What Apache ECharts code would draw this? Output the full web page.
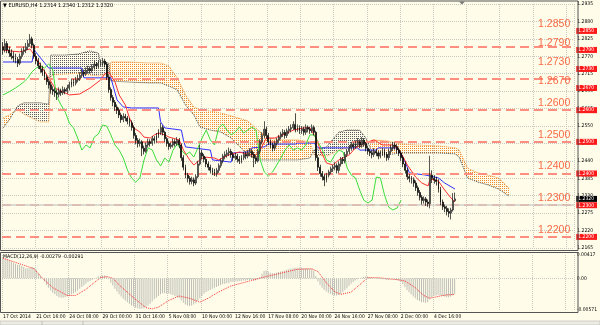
<!DOCTYPE html>
<html><head><meta charset="utf-8">
<script src="https://cdn.jsdelivr.net/npm/echarts@6/dist/echarts.min.js"></script>
<style>html,body{margin:0;padding:0;background:#fffdea}#c{width:600px;height:325px}</style>
</head><body><div id="c"></div>
<script>
const N_BARS = 276;
const TIME_LABELS = ['17 Oct 2014','21 Oct 16:00','24 Oct 08:00','29 Oct 00:00','31 Oct 16:00','5 Nov 08:00','10 Nov 00:00','12 Nov 16:00','17 Nov 08:00','20 Nov 00:00','24 Nov 16:00','27 Nov 08:00','2 Dec 00:00','4 Dec 16:00'];
const LABEL_EVERY = 16;
const Y_MIN = 1.2165, Y_MAX = 1.2935, Y_STEP = 0.0055;
const LEVELS = [1.2850,1.2790,1.2730,1.2670,1.2600,1.2500,1.2400,1.2300,1.2200];
const CURRENT = 1.2320;
const HEADER = '\u25BC EURUSD,H4 1.2314 1.2340 1.2312 1.2320';
const MACD_HEADER = 'MACD(12,26,9) -0.00279 -0.00291';
const M_MIN = -0.00571, M_MAX = 0.00417;

// [open, close, low, high]
const CANDLES = [
[1.2800,1.2790,1.2775,1.2815],[1.2790,1.2810,1.2782,1.2825],[1.2810,1.2790,1.2780,1.2818],[1.2790,1.2780,1.2768,1.2800],
[1.2780,1.2770,1.2760,1.2792],[1.2770,1.2765,1.2752,1.2785],[1.2765,1.2760,1.2748,1.2778],[1.2760,1.2748,1.2736,1.2768],
[1.2748,1.2770,1.2742,1.2778],[1.2770,1.2785,1.2762,1.2795],[1.2785,1.2790,1.2775,1.2800],[1.2790,1.2800,1.2780,1.2812],
[1.2800,1.2810,1.2790,1.2822],[1.2810,1.2825,1.2800,1.2840],[1.2825,1.2805,1.2795,1.2832],[1.2805,1.2770,1.2762,1.2810],
[1.2770,1.2755,1.2745,1.2780],[1.2755,1.2740,1.2730,1.2765],[1.2740,1.2730,1.2718,1.2750],[1.2730,1.2720,1.2708,1.2740],
[1.2720,1.2705,1.2695,1.2728],[1.2705,1.2690,1.2680,1.2712],[1.2690,1.2680,1.2668,1.2698],[1.2680,1.2665,1.2652,1.2688],
[1.2665,1.2660,1.2648,1.2675],[1.2660,1.2655,1.2642,1.2670],[1.2655,1.2650,1.2632,1.2665],[1.2650,1.2660,1.2640,1.2672],
[1.2660,1.2655,1.2645,1.2668],[1.2655,1.2665,1.2648,1.2675],[1.2665,1.2660,1.2650,1.2672],[1.2660,1.2670,1.2652,1.2680],
[1.2670,1.2680,1.2662,1.2690],[1.2680,1.2690,1.2672,1.2700],[1.2690,1.2685,1.2675,1.2698],[1.2685,1.2695,1.2678,1.2705],
[1.2695,1.2700,1.2688,1.2712],[1.2700,1.2710,1.2692,1.2720],[1.2710,1.2720,1.2702,1.2730],[1.2720,1.2715,1.2705,1.2728],
[1.2715,1.2725,1.2708,1.2735],[1.2725,1.2730,1.2715,1.2740],[1.2730,1.2725,1.2715,1.2738],[1.2725,1.2735,1.2718,1.2745],
[1.2735,1.2745,1.2728,1.2755],[1.2745,1.2740,1.2730,1.2752],[1.2740,1.2748,1.2732,1.2758],[1.2748,1.2750,1.2738,1.2760],
[1.2750,1.2755,1.2740,1.2765],[1.2755,1.2745,1.2735,1.2762],[1.2745,1.2705,1.2695,1.2752],[1.2705,1.2665,1.2655,1.2712],
[1.2665,1.2640,1.2630,1.2672],[1.2640,1.2625,1.2612,1.2648],[1.2625,1.2610,1.2598,1.2632],[1.2610,1.2600,1.2588,1.2618],
[1.2600,1.2585,1.2575,1.2608],[1.2585,1.2570,1.2560,1.2592],[1.2570,1.2580,1.2562,1.2590],[1.2580,1.2575,1.2565,1.2588],
[1.2575,1.2565,1.2555,1.2582],[1.2565,1.2560,1.2548,1.2575],[1.2560,1.2545,1.2535,1.2568],[1.2545,1.2520,1.2510,1.2552],
[1.2520,1.2505,1.2492,1.2528],[1.2505,1.2495,1.2482,1.2512],[1.2495,1.2500,1.2485,1.2510],[1.2500,1.2480,1.2455,1.2505],
[1.2480,1.2470,1.2460,1.2488],[1.2470,1.2490,1.2465,1.2498],[1.2490,1.2500,1.2482,1.2510],[1.2500,1.2495,1.2485,1.2508],
[1.2495,1.2510,1.2488,1.2518],[1.2510,1.2505,1.2495,1.2518],[1.2505,1.2520,1.2498,1.2528],[1.2520,1.2530,1.2512,1.2540],
[1.2530,1.2545,1.2522,1.2560],[1.2545,1.2530,1.2520,1.2552],[1.2530,1.2510,1.2500,1.2535],[1.2510,1.2495,1.2485,1.2515],
[1.2495,1.2485,1.2475,1.2502],[1.2485,1.2490,1.2478,1.2498],[1.2490,1.2500,1.2482,1.2510],[1.2500,1.2495,1.2485,1.2508],
[1.2495,1.2505,1.2488,1.2515],[1.2505,1.2490,1.2480,1.2512],[1.2490,1.2450,1.2440,1.2495],[1.2450,1.2420,1.2410,1.2458],
[1.2420,1.2395,1.2385,1.2428],[1.2395,1.2385,1.2372,1.2402],[1.2385,1.2375,1.2365,1.2392],[1.2375,1.2380,1.2366,1.2390],
[1.2380,1.2370,1.2360,1.2388],[1.2370,1.2390,1.2364,1.2398],[1.2390,1.2430,1.2385,1.2440],[1.2430,1.2465,1.2425,1.2490],
[1.2465,1.2455,1.2445,1.2475],[1.2455,1.2445,1.2435,1.2462],[1.2445,1.2430,1.2420,1.2452],[1.2430,1.2420,1.2410,1.2438],
[1.2420,1.2410,1.2400,1.2428],[1.2410,1.2405,1.2395,1.2418],[1.2405,1.2400,1.2392,1.2415],[1.2400,1.2410,1.2390,1.2418],
[1.2410,1.2425,1.2402,1.2432],[1.2425,1.2440,1.2418,1.2448],[1.2440,1.2455,1.2432,1.2462],[1.2455,1.2460,1.2445,1.2470],
[1.2460,1.2465,1.2450,1.2475],[1.2465,1.2470,1.2455,1.2482],[1.2470,1.2460,1.2450,1.2478],[1.2460,1.2450,1.2440,1.2468],
[1.2450,1.2455,1.2442,1.2465],[1.2455,1.2445,1.2435,1.2462],[1.2445,1.2440,1.2430,1.2455],[1.2440,1.2450,1.2432,1.2458],
[1.2450,1.2460,1.2442,1.2468],[1.2460,1.2455,1.2445,1.2470],[1.2455,1.2465,1.2448,1.2475],[1.2465,1.2470,1.2455,1.2480],
[1.2470,1.2460,1.2450,1.2478],[1.2460,1.2450,1.2420,1.2468],[1.2450,1.2440,1.2430,1.2458],[1.2440,1.2470,1.2435,1.2478],
[1.2470,1.2500,1.2462,1.2508],[1.2500,1.2520,1.2492,1.2530],[1.2520,1.2540,1.2512,1.2565],[1.2540,1.2520,1.2510,1.2548],
[1.2520,1.2500,1.2490,1.2528],[1.2500,1.2490,1.2480,1.2508],[1.2490,1.2480,1.2470,1.2498],[1.2480,1.2495,1.2472,1.2502],
[1.2495,1.2505,1.2488,1.2512],[1.2505,1.2515,1.2498,1.2522],[1.2515,1.2525,1.2508,1.2532],[1.2525,1.2530,1.2515,1.2540],
[1.2530,1.2520,1.2510,1.2538],[1.2520,1.2535,1.2512,1.2542],[1.2535,1.2540,1.2525,1.2550],[1.2540,1.2545,1.2530,1.2555],
[1.2545,1.2555,1.2538,1.2565],[1.2555,1.2540,1.2530,1.2590],[1.2540,1.2545,1.2532,1.2555],[1.2545,1.2535,1.2525,1.2552],
[1.2535,1.2540,1.2525,1.2550],[1.2540,1.2530,1.2520,1.2548],[1.2530,1.2545,1.2522,1.2555],[1.2545,1.2540,1.2530,1.2552],
[1.2540,1.2535,1.2525,1.2548],[1.2535,1.2545,1.2528,1.2555],[1.2545,1.2530,1.2520,1.2552],[1.2530,1.2450,1.2440,1.2535],
[1.2450,1.2420,1.2408,1.2458],[1.2420,1.2400,1.2390,1.2428],[1.2400,1.2390,1.2378,1.2408],[1.2390,1.2380,1.2360,1.2398],
[1.2380,1.2395,1.2372,1.2402],[1.2395,1.2405,1.2388,1.2412],[1.2405,1.2415,1.2398,1.2422],[1.2415,1.2420,1.2405,1.2428],
[1.2420,1.2425,1.2410,1.2435],[1.2425,1.2410,1.2400,1.2432],[1.2410,1.2430,1.2402,1.2438],[1.2430,1.2445,1.2422,1.2452],
[1.2445,1.2440,1.2430,1.2452],[1.2440,1.2460,1.2432,1.2468],[1.2460,1.2470,1.2452,1.2478],[1.2470,1.2480,1.2462,1.2490],
[1.2480,1.2490,1.2472,1.2500],[1.2490,1.2485,1.2475,1.2498],[1.2485,1.2495,1.2478,1.2505],[1.2495,1.2500,1.2485,1.2512],
[1.2500,1.2490,1.2480,1.2508],[1.2490,1.2505,1.2482,1.2515],[1.2505,1.2495,1.2485,1.2512],[1.2495,1.2480,1.2470,1.2500],
[1.2480,1.2470,1.2460,1.2488],[1.2470,1.2465,1.2455,1.2478],[1.2465,1.2460,1.2448,1.2472],[1.2460,1.2470,1.2452,1.2480],
[1.2470,1.2465,1.2455,1.2478],[1.2465,1.2455,1.2445,1.2472],[1.2455,1.2465,1.2448,1.2472],[1.2465,1.2470,1.2455,1.2480],
[1.2470,1.2460,1.2450,1.2478],[1.2460,1.2450,1.2440,1.2468],[1.2450,1.2470,1.2442,1.2478],[1.2470,1.2480,1.2462,1.2490],
[1.2480,1.2490,1.2472,1.2500],[1.2490,1.2485,1.2475,1.2498],[1.2485,1.2475,1.2465,1.2492],[1.2475,1.2465,1.2455,1.2482],
[1.2465,1.2450,1.2440,1.2472],[1.2450,1.2430,1.2420,1.2458],[1.2430,1.2410,1.2400,1.2438],[1.2410,1.2390,1.2380,1.2418],
[1.2390,1.2385,1.2372,1.2398],[1.2385,1.2380,1.2368,1.2392],[1.2380,1.2370,1.2358,1.2388],[1.2370,1.2355,1.2345,1.2378],
[1.2355,1.2340,1.2330,1.2362],[1.2340,1.2325,1.2315,1.2348],[1.2325,1.2315,1.2302,1.2332],[1.2315,1.2320,1.2305,1.2328],
[1.2320,1.2310,1.2298,1.2326],[1.2310,1.2305,1.2295,1.2318],[1.2305,1.2395,1.2290,1.2456],[1.2395,1.2385,1.2370,1.2410],
[1.2385,1.2380,1.2368,1.2395],[1.2380,1.2375,1.2362,1.2390],[1.2375,1.2350,1.2340,1.2382],[1.2350,1.2310,1.2300,1.2358],
[1.2310,1.2295,1.2285,1.2318],[1.2295,1.2290,1.2278,1.2302],[1.2290,1.2280,1.2268,1.2298],[1.2280,1.2275,1.2262,1.2290],
[1.2275,1.2285,1.2255,1.2292],[1.2285,1.2314,1.2280,1.2338],[1.2314,1.2320,1.2312,1.2340]
];

// [bar index, value]
const TENKAN = [[0,1.2790],[3,1.2787],[8,1.2784],[13,1.2793],[14,1.2784],[18,1.2743],[22,1.2702],[25,1.2670],[32,1.2648],[37,1.2651],[42,1.2670],[47,1.2695],[49,1.2714],[51,1.2720],[54,1.2689],[56,1.2648],[59,1.2616],[61,1.2575],[63,1.2544],[66,1.2531],[68,1.2515],[71,1.2512],[73,1.2522],[75,1.2528],[78,1.2522],[80,1.2515],[85,1.2506],[87,1.2474],[90,1.2443],[92,1.2427],[95,1.2443],[97,1.2452],[102,1.2449],[104,1.2443],[109,1.2459],[114,1.2468],[119,1.2459],[122,1.2459],[124,1.2474],[127,1.2512],[131,1.2512],[135,1.2522],[140,1.2537],[145,1.2544],[148,1.2544],[151,1.2512],[153,1.2474],[156,1.2433],[159,1.2427],[162,1.2443],[167,1.2459],[170,1.2481],[174,1.2496],[179,1.2506],[183,1.2490],[188,1.2490],[191,1.2474],[193,1.2452],[195,1.2427],[199,1.2389],[202,1.2370],[205,1.2361],[206,1.2383],[210,1.2376],[213,1.2348],[216,1.2323],[218,1.2310]];
const KIJUN = [[0,1.2752],[14,1.2752],[15,1.2790],[22,1.2733],[38,1.2733],[39,1.2702],[52,1.2702],[53,1.2679],[55,1.2632],[58,1.2610],[62,1.2607],[75,1.2607],[76,1.2563],[78,1.2544],[86,1.2537],[87,1.2506],[88,1.2484],[100,1.2474],[101,1.2443],[110,1.2436],[111,1.2465],[118,1.2468],[120,1.2481],[126,1.2484],[128,1.2493],[141,1.2493],[142,1.2496],[150,1.2496],[152,1.2481],[171,1.2481],[172,1.2474],[180,1.2474],[181,1.2481],[190,1.2481],[192,1.2459],[194,1.2436],[196,1.2402],[204,1.2395],[206,1.2392],[210,1.2386],[213,1.2370],[218,1.2351]];
const CHIKOU = [[0,1.2648],[3,1.2658],[6,1.2670],[8,1.2679],[10,1.2689],[12,1.2702],[14,1.2721],[16,1.2733],[18,1.2739],[20,1.2733],[22,1.2746],[24,1.2727],[25,1.2679],[26,1.2642],[28,1.2616],[30,1.2594],[32,1.2559],[34,1.2544],[36,1.2512],[38,1.2474],[40,1.2490],[42,1.2481],[44,1.2515],[46,1.2525],[48,1.2553],[50,1.2550],[52,1.2522],[54,1.2490],[56,1.2474],[58,1.2449],[60,1.2411],[62,1.2386],[64,1.2373],[66,1.2386],[68,1.2443],[70,1.2481],[72,1.2474],[74,1.2443],[76,1.2424],[78,1.2449],[80,1.2436],[82,1.2474],[84,1.2493],[86,1.2474],[88,1.2459],[90,1.2468],[92,1.2452],[94,1.2481],[96,1.2512],[98,1.2537],[100,1.2506],[102,1.2490],[104,1.2544],[106,1.2556],[108,1.2537],[110,1.2522],[112,1.2531],[114,1.2547],[116,1.2528],[118,1.2537],[120,1.2547],[122,1.2537],[124,1.2443],[126,1.2405],[128,1.2392],[130,1.2405],[132,1.2427],[134,1.2449],[136,1.2474],[138,1.2490],[140,1.2474],[142,1.2481],[144,1.2474],[146,1.2490],[148,1.2522],[150,1.2522],[152,1.2499],[154,1.2474],[156,1.2443],[158,1.2436],[160,1.2459],[162,1.2474],[164,1.2468],[166,1.2417],[168,1.2395],[170,1.2386],[172,1.2348],[174,1.2316],[176,1.2307],[178,1.2316],[180,1.2389],[182,1.2386],[184,1.2332],[186,1.2294],[188,1.2285],[190,1.2291],[192,1.2316]];

const SENKOU_IDX = [0,3,5,7,10,14,18,22,23,24,30,36,42,46,47,51,52,60,70,76,80,84,88,92,95,100,105,110,118,123,128,135,142,148,150,156,162,166,172,175,178,185,192,200,210,218,220,224,229,234,239,244];
const SPAN_A = [1.2575,1.2585,1.2594,1.2601,1.2588,1.2575,1.2563,1.2563,1.2705,1.2711,1.2714,1.2717,1.2711,1.2708,1.2711,1.2711,1.2752,1.2752,1.2749,1.2749,1.2739,1.2702,1.2648,1.2610,1.2601,1.2597,1.2591,1.2582,1.2566,1.2537,1.2512,1.2506,1.2506,1.2500,1.2459,1.2455,1.2474,1.2481,1.2481,1.2490,1.2506,1.2503,1.2493,1.2490,1.2487,1.2481,1.2474,1.2417,1.2402,1.2395,1.2386,1.2354];
const SPAN_B = [1.2544,1.2569,1.2591,1.2613,1.2623,1.2623,1.2623,1.2619,1.2774,1.2774,1.2774,1.2777,1.2787,1.2780,1.2749,1.2749,1.2692,1.2689,1.2686,1.2686,1.2676,1.2664,1.2616,1.2585,1.2547,1.2537,1.2531,1.2512,1.2459,1.2443,1.2443,1.2443,1.2443,1.2449,1.2474,1.2484,1.2531,1.2537,1.2537,1.2512,1.2468,1.2459,1.2465,1.2465,1.2465,1.2462,1.2452,1.2386,1.2373,1.2364,1.2351,1.2329];

const MACD_HIST = [
0.0038,0.0036,0.0034,0.0032,0.0030,0.0028,0.0026,0.0024,0.0024,0.0022,0.0020,0.0018,0.0018,0.0019,0.0020,0.0019,0.0015,
0.0010,0.0005,0.0000,-0.0006,-0.0012,-0.0017,-0.0022,-0.0026,-0.0029,-0.0032,-0.0034,-0.0035,-0.0035,-0.0034,-0.0033,
-0.0031,-0.0029,-0.0027,-0.0025,-0.0022,-0.0019,-0.0016,-0.0013,-0.0010,-0.0007,-0.0005,-0.0003,-0.0001,
0.0001,0.0003,0.0004,0.0005,0.0005,0.0003,-0.0002,-0.0008,-0.0013,-0.0019,-0.0024,-0.0029,
-0.0033,-0.0037,-0.0040,-0.0043,-0.0046,-0.0049,-0.0051,-0.0053,-0.0054,-0.0055,-0.0055,-0.0054,-0.0052,
-0.0049,-0.0046,-0.0042,-0.0038,-0.0035,-0.0032,-0.0029,-0.0027,-0.0027,-0.0028,-0.0028,-0.0029,
-0.0030,-0.0032,-0.0034,-0.0036,-0.0040,-0.0044,-0.0047,-0.0049,-0.0050,-0.0049,-0.0047,-0.0045,
-0.0041,-0.0036,-0.0032,-0.0028,-0.0025,-0.0023,-0.0021,-0.0019,-0.0017,-0.0016,-0.0014,-0.0012,-0.0011,
-0.0010,-0.0009,-0.0008,-0.0007,-0.0007,-0.0006,-0.0006,-0.0005,-0.0005,-0.0004,-0.0004,-0.0003,-0.0003,-0.0003,
-0.0004,-0.0004,-0.0002,0.0002,0.0008,0.0013,0.0014,0.0012,0.0010,0.0009,0.0009,0.0010,0.0011,0.0012,
0.0013,0.0014,0.0015,0.0016,0.0017,0.0018,0.0019,0.0019,0.0019,0.0019,0.0018,0.0018,0.0018,0.0017,0.0017,
0.0014,0.0004,-0.0006,-0.0012,-0.0017,-0.0021,-0.0024,-0.0026,-0.0028,-0.0030,
-0.0031,-0.0031,-0.0030,-0.0028,-0.0025,-0.0021,-0.0018,-0.0014,-0.0010,-0.0007,-0.0004,-0.0002,
0.0000,0.0001,0.0002,0.0003,0.0003,0.0002,0.0001,0.0000,0.0000,-0.0001,-0.0001,-0.0002,-0.0002,
-0.0003,-0.0003,-0.0002,-0.0002,-0.0002,-0.0003,-0.0004,-0.0007,-0.0011,-0.0016,-0.0021,-0.0025,-0.0029,
-0.0033,-0.0036,-0.0039,-0.0041,-0.0043,-0.0043,-0.0044,-0.0043,-0.0038,-0.0034,
-0.0032,-0.0031,-0.0030,-0.0031,-0.0032,-0.0033,-0.0034,-0.0034,-0.0033,-0.0031,-0.0028
];
const MACD_SIGNAL = [[0,0.0036],[15,0.0017],[19,0.0000],[24,-0.0017],[31,-0.0031],[35,-0.0031],[40,-0.0020],[47,0.0001],[50,0.0003],[53,0.0000],[56,-0.0012],[63,-0.0035],[69,-0.0053],[72,-0.0055],[75,-0.0052],[80,-0.0040],[85,-0.0032],[90,-0.0036],[95,-0.0043],[99,-0.0036],[104,-0.0025],[110,-0.0014],[120,-0.0004],[127,0.0003],[134,0.0009],[142,0.0016],[149,0.0017],[152,0.0012],[156,-0.0008],[160,-0.0024],[163,-0.0029],[168,-0.0025],[173,-0.0009],[176,0.0001],[181,0.0001],[186,-0.0001],[191,-0.0003],[194,-0.0005],[199,-0.0017],[203,-0.0031],[206,-0.0036],[211,-0.0032],[214,-0.0030],[218,-0.0029]];

// ---------- styling ----------
const BG = '#fffdea';
const GRID_C = '#c9c9c0';
const FONT_SMALL = '"Liberation Sans Narrow","DejaVu Sans Condensed","Liberation Sans",sans-serif';
const FONT_LEVEL = '"Liberation Sans",Arial,sans-serif';

function makePattern(color){
  const cv = document.createElement('canvas'); cv.width = 2; cv.height = 2;
  const ctx = cv.getContext('2d');
  ctx.fillStyle = color; ctx.fillRect(0,0,1,1);
  return {image: cv, repeat: 'repeat'};
}
const ORANGE_PAT = makePattern('#ef8a2c');
const GRAY_PAT = makePattern('#5a5a5a');

const cats = Array.from({length: N_BARS}, (_, i) => String(i));
const cloudData = SENKOU_IDX.map((x, k) => [x, SPAN_A[k], SPAN_B[k]]);
const isLabelIdx = (i) => i % LABEL_EVERY === 0 && i / LABEL_EVERY < TIME_LABELS.length;

const chart = echarts.init(document.getElementById('c'));
const option = {
  animation: false,
  backgroundColor: BG,
  title: [
    {text: HEADER, left: 3, top: 3, padding: 0, textStyle: {fontSize: 5.5, fontWeight: 'normal', color: '#000', fontFamily: FONT_SMALL}},
    {text: MACD_HEADER, left: 3, top: 254, padding: 0, textStyle: {fontSize: 5.2, fontWeight: 'normal', color: '#000', fontFamily: FONT_SMALL}}
  ],
  grid: [
    {left: 2, right: 23, top: 4, bottom: 77},
    {left: 2, right: 23, top: 255, bottom: 15}
  ],
  xAxis: [
    {type: 'category', gridIndex: 0, data: cats, boundaryGap: true,
     axisLine: {show: false}, axisTick: {show: false}, axisLabel: {show: false},
     splitLine: {show: true, interval: (i) => i % LABEL_EVERY === 0, lineStyle: {type: 'dotted', color: GRID_C}}},
    {type: 'category', gridIndex: 1, data: cats, boundaryGap: true,
     axisLine: {show: false}, axisTick: {show: false},
     axisLabel: {show: true, showMinLabel: true, interval: (i) => isLabelIdx(i), formatter: (v, i) => TIME_LABELS[i / LABEL_EVERY] || '',
       align: 'left', fontSize: 5, margin: 4, color: '#000', fontFamily: FONT_SMALL},
     splitLine: {show: true, interval: (i) => i % LABEL_EVERY === 0, lineStyle: {type: 'dotted', color: GRID_C}}}
  ],
  yAxis: [
    {type: 'value', gridIndex: 0, position: 'right', min: Y_MIN, max: Y_MAX, interval: Y_STEP,
     axisLine: {show: false}, axisTick: {show: false},
     splitLine: {show: true, lineStyle: {type: 'dotted', color: GRID_C}},
     axisLabel: {formatter: (v) => v.toFixed(4), fontSize: 5, color: '#000', margin: 3, fontFamily: FONT_SMALL}},
    {type: 'value', gridIndex: 0, position: 'right', min: Y_MIN, max: Y_MAX, z: 5,
     axisLine: {show: false}, axisTick: {show: false}, splitLine: {show: false},
     axisLabel: {customValues: LEVELS, formatter: (v) => v.toFixed(4), fontSize: 5, color: '#fff', backgroundColor: '#ff1a1a',
       padding: [1, 3, 0, 2], margin: 2, fontFamily: FONT_SMALL}},
    {type: 'value', gridIndex: 0, position: 'right', min: Y_MIN, max: Y_MAX, z: 6,
     axisLine: {show: false}, axisTick: {show: false}, splitLine: {show: false},
     axisLabel: {customValues: [CURRENT], formatter: (v) => v.toFixed(4), fontSize: 5, color: '#fff', backgroundColor: '#000',
       padding: [1, 3, 0, 2], margin: 2, fontFamily: FONT_SMALL}},
    {type: 'value', gridIndex: 1, position: 'right', min: M_MIN, max: M_MAX,
     axisLine: {show: false}, axisTick: {show: false}, splitLine: {show: false},
     axisLabel: {customValues: [M_MAX, 0, M_MIN], formatter: (v) => v === 0 ? '0.00' : v.toFixed(5), fontSize: 5, color: '#000', margin: 3, fontFamily: FONT_SMALL}}
  ],
  series: [
    {type: 'custom', name: 'kumo', xAxisIndex: 0, yAxisIndex: 0, data: cloudData, encode: {x: 0, y: [1, 2]}, clip: true, silent: true, z: 1,
     renderItem: function (params, api) {
       const k = params.dataIndex;
       if (k >= cloudData.length - 1) return null;
       const p = cloudData[k], q = cloudData[k + 1];
       const a0 = api.coord([p[0], p[1]]), a1 = api.coord([q[0], q[1]]);
       const b1 = api.coord([q[0], q[2]]), b0 = api.coord([p[0], p[2]]);
       const up = (p[1] + q[1]) >= (p[2] + q[2]);
       return {type: 'polygon', shape: {points: [a0, a1, b1, b0]}, style: {fill: up ? ORANGE_PAT : GRAY_PAT}};
     }},
    {type: 'line', name: 'Senkou A', xAxisIndex: 0, yAxisIndex: 0, data: SENKOU_IDX.map((x, k) => [x, SPAN_A[k]]), showSymbol: false, silent: true, z: 2,
     lineStyle: {color: '#ef8f3a', width: 1, type: 'dotted'}},
    {type: 'line', name: 'Senkou B', xAxisIndex: 0, yAxisIndex: 0, data: SENKOU_IDX.map((x, k) => [x, SPAN_B[k]]), showSymbol: false, silent: true, z: 2,
     lineStyle: {color: '#444', width: 1, type: 'dotted'}},
    {type: 'line', name: 'Kijun', xAxisIndex: 0, yAxisIndex: 0, data: KIJUN, showSymbol: false, silent: true, z: 3,
     lineStyle: {color: '#3030ff', width: 1}},
    {type: 'line', name: 'Tenkan', xAxisIndex: 0, yAxisIndex: 0, data: TENKAN, showSymbol: false, silent: true, z: 3,
     lineStyle: {color: '#ff3030', width: 1}},
    {type: 'line', name: 'Chikou', xAxisIndex: 0, yAxisIndex: 0, data: CHIKOU, showSymbol: false, silent: true, z: 3,
     lineStyle: {color: '#3cdc3c', width: 1}},
    {type: 'candlestick', name: 'EURUSD', xAxisIndex: 0, yAxisIndex: 0, data: CANDLES, barWidth: 1.4, silent: true, z: 4,
     itemStyle: {color: '#f4f4f4', color0: '#000', borderColor: '#111', borderColor0: '#000', borderWidth: 0.7},
     markLine: {silent: true, symbol: ['none', 'none'], z: 4, label: {show: false},
       data: LEVELS.map(v => ({yAxis: v, lineStyle: {color: '#ff8e80', width: 2, type: [9, 5]}})).concat([
         {yAxis: CURRENT, lineStyle: {color: '#cfcfc8', width: 1.5, type: 'solid'}}])}},
    {type: 'custom', name: 'Level labels', xAxisIndex: 0, yAxisIndex: 0, silent: true, z: 6, clip: false,
     data: LEVELS.map(v => [N_BARS - 1, v]), encode: {x: 0, y: 1},
     renderItem: function (params, api) {
       const pt = api.coord([api.value(0), api.value(1)]);
       return {type: 'text', x: pt[0] - 3, y: pt[1] - 1.5,
         style: {text: LEVELS[params.dataIndex].toFixed(4), fill: '#fa6a45', font: '10.5px ' + FONT_LEVEL,
           align: 'right', verticalAlign: 'bottom', textAlign: 'right', textVerticalAlign: 'bottom'}};
     }},
    {type: 'bar', name: 'MACD', xAxisIndex: 1, yAxisIndex: 3, data: MACD_HIST, barWidth: 1, silent: true,
     itemStyle: {color: '#bdbdb5'},
     markLine: {silent: true, symbol: ['none', 'none'], label: {show: false},
       data: [{yAxis: 0}], lineStyle: {color: GRID_C, type: 'dotted', width: 1}}},
    {type: 'line', name: 'Signal', xAxisIndex: 1, yAxisIndex: 3, data: MACD_SIGNAL, showSymbol: false, silent: true,
     lineStyle: {color: '#ff3030', width: 1, type: 'dotted'}}
  ],
  graphic: [
    {type: 'rect', shape: {x: 0.5, y: 1, width: 577.5, height: 249.5}, style: {fill: 'none', stroke: '#555', lineWidth: 1}, silent: true, z: 100},
    {type: 'rect', shape: {x: 0.5, y: 252.5, width: 577.5, height: 60}, style: {fill: 'none', stroke: '#555', lineWidth: 1}, silent: true, z: 100},
    {type: 'polygon', shape: {points: [[459, 1.5], [465, 1.5], [462, 4.5]]}, style: {fill: '#777'}, silent: true, z: 100},
    {type: 'rect', shape: {x: 0, y: 321, width: 600, height: 4}, style: {fill: '#ecebe4', stroke: '#aaa', lineWidth: 0.5}, silent: true, z: 100},
    {type: 'line', shape: {x1: 42, y1: 321, x2: 42, y2: 325}, style: {stroke: '#999', lineWidth: 0.5}, silent: true, z: 100},
    {type: 'line', shape: {x1: 83, y1: 321, x2: 83, y2: 325}, style: {stroke: '#999', lineWidth: 0.5}, silent: true, z: 100}
  ]
};
chart.setOption(option);
</script>
</body></html>
